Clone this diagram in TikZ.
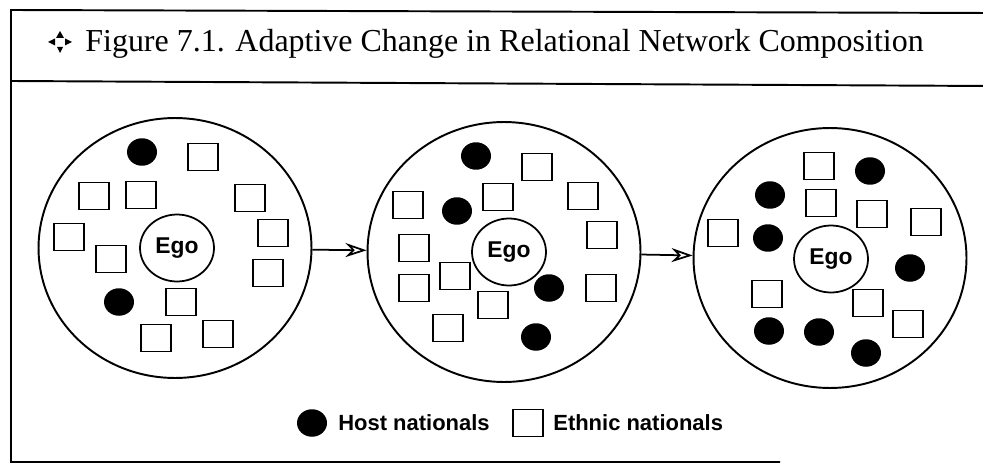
\documentclass[tikz,border=0pt]{standalone}
\usepackage{fontspec}
\setmainfont{Liberation Serif}
\setsansfont{Liberation Sans}
\usetikzlibrary{arrows.meta,shapes.geometric}

\begin{document}
\begin{tikzpicture}[x=0.02cm,y=-0.02cm,
    net/.style={draw,line width=1.1pt,ellipse,inner sep=0pt,minimum width=5.46cm,minimum height=5.2cm},
    ego/.style={draw,line width=1pt,ellipse,inner sep=0pt,minimum width=1.48cm,minimum height=1.34cm,font=\sffamily\bfseries\fontsize{13}{15}\selectfont},
    ethnic/.style={draw,line width=1pt,rectangle,inner sep=0pt,minimum width=0.6cm,minimum height=0.54cm},
    host/.style={fill,ellipse,inner sep=0pt,minimum width=0.6cm,minimum height=0.55cm},
    key/.style={anchor=west,inner sep=0pt,font=\sffamily\bfseries\fontsize{12.5}{15}\selectfont}]
        \useasboundingbox (0,0) rectangle (983,466);

        % frame and header
        \draw[line width=1.1pt] (990,13) -- (11,10) -- (11,462) -- (780,462);
        \draw[line width=1.1pt] (11,81) -- (990,86);
        \fill (60,31) -- (56,38) -- (64,38) -- cycle;
        \fill (60,53) -- (57,47) -- (63,47) -- cycle;
        \fill (48,42) -- (55,38.5) -- (55,45.5) -- cycle;
        \fill (72,42) -- (65,38.5) -- (65,45.5) -- cycle;
        \node[anchor=base west,inner sep=0pt,font=\fontsize{18.2}{21}\selectfont] (title) at (85,52)
            {Figure 7.1. Adaptive Change in Relational Network Composition};

        % networks
        \node[net] (n1) at (175,248) {};
        \node[net] (n2) at (504,252) {};
        \node[net] (n3) at (830,258) {};
        \node[ego] (ego1) at (177,248) {Ego};
        \node[ego] (ego2) at (509,252) {Ego};
        \node[ego] (ego3) at (831,259) {Ego};

        % first network
        \foreach \p [count=\i] in {(203,157),(94,196),(141,195),(250,198),(69,237),(273,233),
            (111,259),(268,273),(181,302),(156,338),(218,334)}
            \node[ethnic] (a-e\i) at \p {};
        \foreach \p [count=\i] in {(142,152),(119,302)}
            \node[host] (a-h\i) at \p {};

        % second network
        \foreach \p [count=\i] in {(537,167),(498,197),(583,196),(408,205),(602,235),(414,248),
            (455,276),(601,288),(414,288),(493,305),(448,328)}
            \node[ethnic] (b-e\i) at \p {};
        \foreach \p [count=\i] in {(476,156),(457,211),(549,288),(536,337)}
            \node[host] (b-h\i) at \p {};

        % third network
        \foreach \p [count=\i] in {(819,166),(821,203),(872,214),(926,222),(723,233),
            (767,294),(868,303),(908,324)}
            \node[ethnic] (c-e\i) at \p {};
        \foreach \p [count=\i] in {(870,171),(770,195),(768,238),(910,268),(769,331),
            (819,332),(866,353)}
            \node[host] (c-h\i) at \p {};

        % change over time
        \draw[line width=1pt,-{Stealth[open,length=12pt,width=8pt]}] (n1) -- (n2);
        \draw[line width=1pt,-{Stealth[open,length=12pt,width=8pt]}] (n2) -- (n3);

        % legend
        \node[host] (hostkey) at (312,423) {};
        \node[key] (hostlabel) at (338,423) {Host nationals};
        \node[ethnic] (ethnickey) at (528,423) {};
        \node[key] (ethniclabel) at (553,423) {Ethnic nationals};
    \end{tikzpicture}
\end{document}
